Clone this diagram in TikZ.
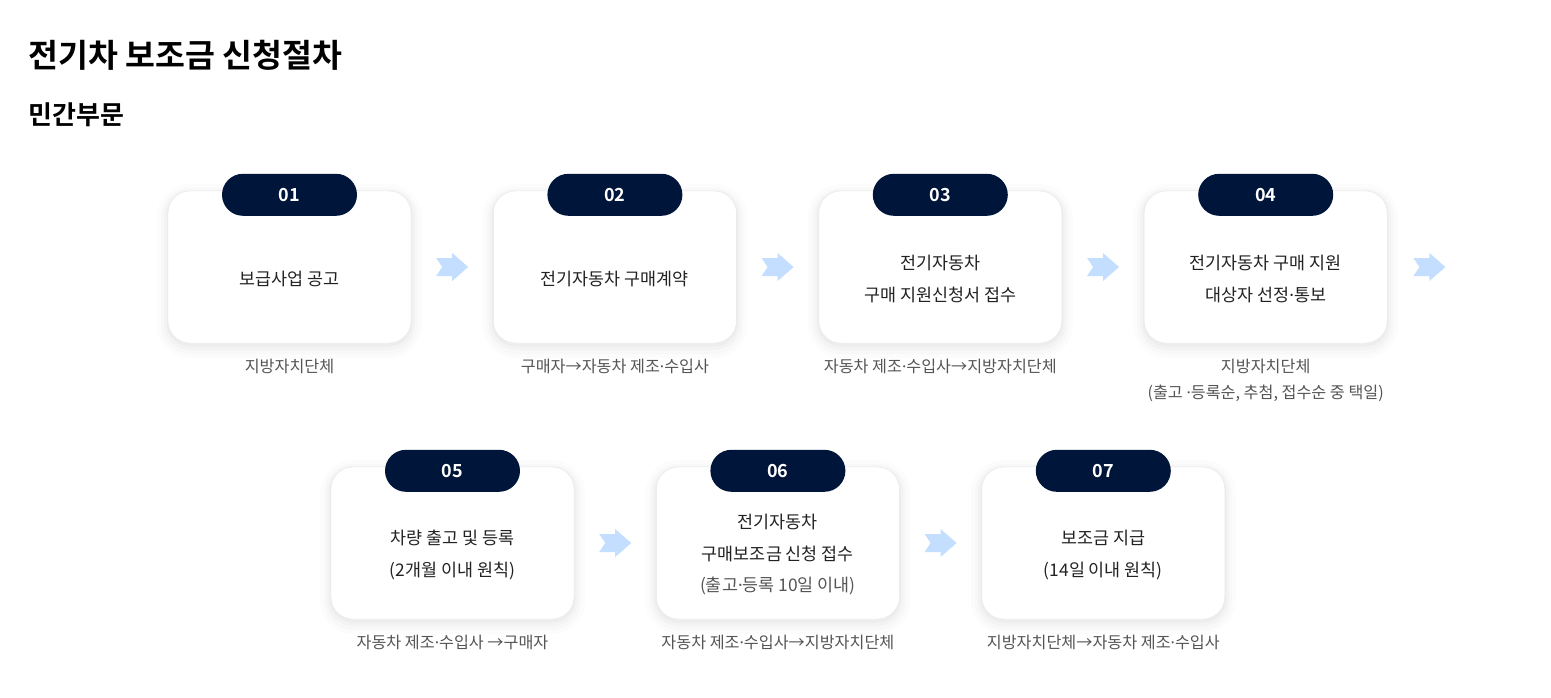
\documentclass[tikz,border=0pt]{standalone}
\usepackage{fontspec}
\newfontfamily\kr{Noto Sans CJK KR}[BoldFont={Noto Sans CJK KR Bold}]
\newfontfamily\latinsans{Noto Sans}
\usetikzlibrary{positioning,calc}

\definecolor{navy}{HTML}{00153A}
\definecolor{stepblue}{HTML}{C4DEFF}
\definecolor{bordergray}{HTML}{E8E8E8}
\definecolor{captiongray}{HTML}{555555}
\definecolor{textdark}{HTML}{222222}

\newcommand{\mdot}{{\latinsans ·}}

\tikzset{
  card/.style={draw=bordergray, fill=white, rounded corners=22pt,
    minimum width=243pt, minimum height=152pt, inner sep=0pt,
    preaction={draw=black, draw opacity=0.012, line width=22pt, transform canvas={yshift=-4pt}},
    preaction={draw=black, draw opacity=0.015, line width=14pt, transform canvas={yshift=-4pt}},
    preaction={draw=black, draw opacity=0.02, line width=8pt, transform canvas={yshift=-3pt}},
    preaction={draw=black, draw opacity=0.025, line width=3pt, transform canvas={yshift=-2pt}}},
  badge/.style={fill=navy, text=white, rounded corners=21pt,
    minimum width=135pt, minimum height=42pt, inner sep=0pt,
    font=\kr\bfseries\fontsize{18}{20}\selectfont},
  cardtext/.style={align=center, text=textdark, font=\kr\fontsize{17.4}{31.5}\selectfont},
  caption/.style={align=center, text=captiongray, anchor=north,
    font=\kr\fontsize{16.2}{26}\selectfont},
  stepArrow/.pic={
    \fill[stepblue] (-16,-9) -- (0,-9) -- (0,-14) -- (16,0) -- (0,14)
      -- (0,9) -- (-16,9) -- (-10,0) -- cycle;
  }
}

\begin{document}
\begin{tikzpicture}[x=1pt,y=-1pt]
  \useasboundingbox[fill=white] (0,0) rectangle (1551,697);

  \node[anchor=west, font=\kr\bfseries\fontsize{32.5}{36}\selectfont] (title) at (25,55) {전기차 보조금 신청절차};
  \node[anchor=west, font=\kr\bfseries\fontsize{26}{30}\selectfont] (subtitle) at (25,115) {민간부문};

  % first row
  \node[card] (box1) at (289.5,267) {};
  \node[card, right=82pt of box1] (box2) {};
  \node[card, right=82pt of box2] (box3) {};
  \node[card, right=82pt of box3] (box4) {};

  \node[badge] (badge1) at ([yshift=-4pt]box1.north) {01};
  \node[badge] (badge2) at ([yshift=-4pt]box2.north) {02};
  \node[badge] (badge3) at ([yshift=-4pt]box3.north) {03};
  \node[badge] (badge4) at ([yshift=-4pt]box4.north) {04};

  \node[cardtext] (txt1) at ([yshift=-12pt]box1.center) {보급사업 공고};
  \node[cardtext] (txt2) at ([yshift=-12pt]box2.center) {전기자동차 구매계약};
  \node[cardtext] (txt3) at ([yshift=-12pt]box3.center) {전기자동차\\구매 지원신청서 접수};
  \node[cardtext] (txt4) at ([yshift=-12pt]box4.center) {전기자동차 구매 지원\\대상자 선정\mdot 통보};

  \node[caption] (cap1) at ([yshift=-12pt]box1.south) {지방자치단체};
  \node[caption] (cap2) at ([yshift=-12pt]box2.south) {구매자→자동차 제조\mdot 수입사};
  \node[caption] (cap3) at ([yshift=-12pt]box3.south) {자동차 제조\mdot 수입사→지방자치단체};
  \node[caption] (cap4) at ([yshift=-12pt]box4.south) {지방자치단체\\(출고 \mdot 등록순, 추첨, 접수순 중 택일)};

  \pic at ($(box1.east)!0.5!(box2.west)$) {stepArrow};
  \pic at ($(box2.east)!0.5!(box3.west)$) {stepArrow};
  \pic at ($(box3.east)!0.5!(box4.west)$) {stepArrow};
  \pic at ([xshift=42pt]box4.east) {stepArrow};

  % second row
  \node[card] (box5) at (452.5,543) {};
  \node[card, right=82pt of box5] (box6) {};
  \node[card, right=82pt of box6] (box7) {};

  \node[badge] (badge5) at ([yshift=-4pt]box5.north) {05};
  \node[badge] (badge6) at ([yshift=-4pt]box6.north) {06};
  \node[badge] (badge7) at ([yshift=-4pt]box7.north) {07};

  \node[cardtext] (txt5) at ([yshift=-12pt]box5.center) {차량 출고 및 등록\\(2개월 이내 원칙)};
  \node[cardtext] (txt6) at ([yshift=-12pt]box6.center) {전기자동차\\구매보조금 신청 접수\\\textcolor{captiongray}{(출고\mdot 등록 10일 이내)}};
  \node[cardtext] (txt7) at ([yshift=-12pt]box7.center) {보조금 지급\\(14일 이내 원칙)};

  \node[caption] (cap5) at ([yshift=-12pt]box5.south) {자동차 제조\mdot 수입사 →구매자};
  \node[caption] (cap6) at ([yshift=-12pt]box6.south) {자동차 제조\mdot 수입사→지방자치단체};
  \node[caption] (cap7) at ([yshift=-12pt]box7.south) {지방자치단체→자동차 제조\mdot 수입사};

  \pic at ($(box5.east)!0.5!(box6.west)$) {stepArrow};
  \pic at ($(box6.east)!0.5!(box7.west)$) {stepArrow};
\end{tikzpicture}
\end{document}
